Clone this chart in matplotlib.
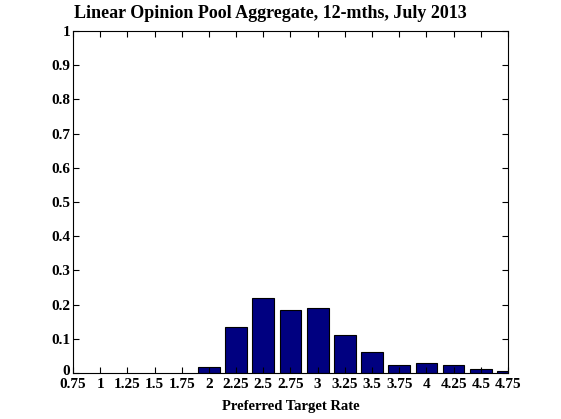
import matplotlib.pyplot as plt
import matplotlib.transforms as mtransforms
import numpy as np

rates = [2, 2.25, 2.5, 2.75, 3, 3.25, 3.5, 3.75, 4, 4.25, 4.5, 4.75]
probs = [0.017, 0.134, 0.219, 0.184, 0.190, 0.111, 0.061, 0.024, 0.029, 0.024, 0.012, 0.006]
xticks = [0.75, 1, 1.25, 1.5, 1.75, 2, 2.25, 2.5, 2.75, 3, 3.25, 3.5, 3.75, 4, 4.25, 4.5, 4.75]
yticks = [0, 0.1, 0.2, 0.3, 0.4, 0.5, 0.6, 0.7, 0.8, 0.9, 1]

plt.rcParams['font.family'] = 'Liberation Serif'
plt.rcParams['font.weight'] = 'bold'

fig = plt.figure(figsize=(5.61, 4.19), dpi=100)
ax = fig.add_axes([0.130, 0.110, 0.7755, 0.816])

ax.bar(rates, probs, width=0.2, color='#000080', edgecolor='black', linewidth=0.8)

ax.set_xlim(0.75, 4.75)
ax.set_ylim(0, 1)
ax.set_xticks(xticks)
ax.set_xticklabels([f'{t:g}' for t in xticks])
ax.set_yticks(yticks)
ax.set_yticklabels([f'{t:g}' for t in yticks])
ax.tick_params(direction='in', top=True, right=True, labelsize=11, length=4.5, pad=2)
ax.tick_params(axis='x', pad=4)
for s in ax.spines.values():
    s.set_linewidth(0.8)

# nudge the "0" label up a little so it doesn't collide with "0.75"
lbl0 = ax.get_yticklabels()[0]
lbl0.set_transform(lbl0.get_transform() + mtransforms.ScaledTranslation(0, 2 / 72, fig.dpi_scale_trans))

ax.set_xlabel('Preferred Target Rate', fontsize=10.5, fontweight='bold', labelpad=6)
fig.text(270 / 561, 1 - 14 / 419, 'Linear Opinion Pool Aggregate, 12-mths, July 2013',
         ha='center', va='center', fontsize=13, fontweight='bold')

fig.savefig('out.png', dpi=100)
